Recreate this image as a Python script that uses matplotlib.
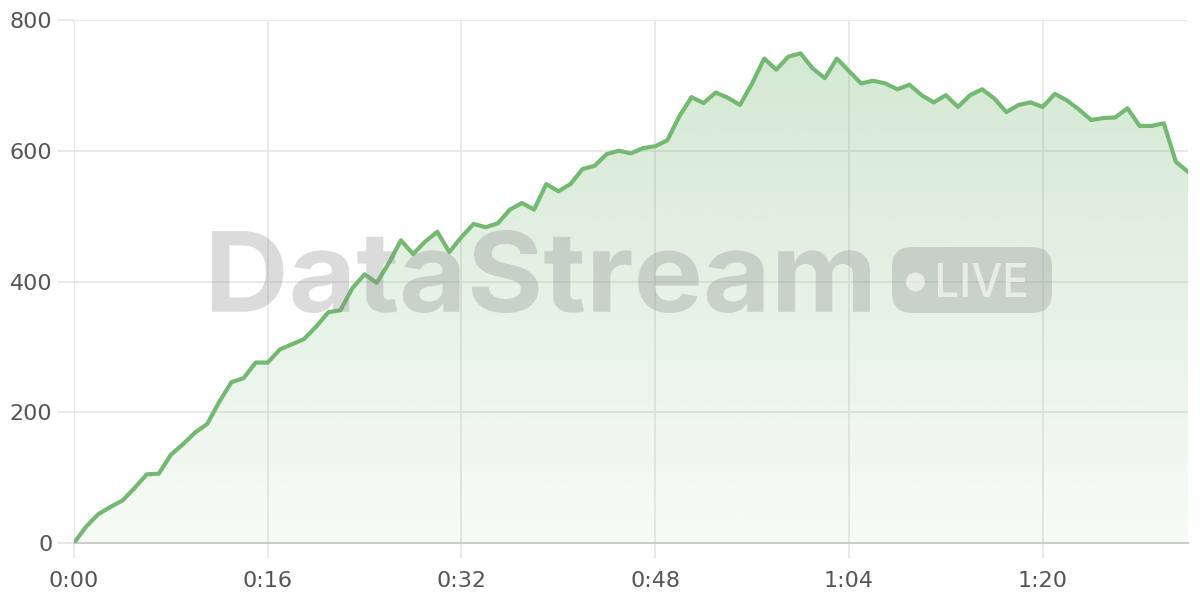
import matplotlib.pyplot as plt
import numpy as np
from matplotlib.patches import FancyBboxPatch, PathPatch, Circle
from matplotlib.textpath import TextPath
from matplotlib.font_manager import FontProperties
from matplotlib.transforms import Affine2D
from matplotlib.colors import LinearSegmentedColormap
from matplotlib.ticker import FuncFormatter

# one reading per second
values = [0, 25, 44, 55, 65, 84, 105, 106, 135, 151,
          169, 182, 216, 246, 252, 276, 276, 296, 304, 312,
          331, 353, 356, 390, 411, 398, 428, 463, 442, 461,
          476, 445, 468, 488, 483, 489, 510, 520, 510, 549,
          538, 549, 572, 577, 595, 600, 596, 604, 607, 616,
          653, 682, 673, 689, 681, 670, 703, 741, 724, 744,
          749, 726, 711, 741, 722, 703, 707, 703, 694, 701,
          685, 674, 685, 667, 685, 694, 680, 659, 670, 674,
          667, 687, 677, 663, 647, 650, 651, 665, 638, 638,
          642, 583, 568]
seconds = np.arange(len(values))
x_ticks = [0, 16, 32, 48, 64, 80]
y_ticks = [0, 200, 400, 600, 800]

line_color = '#74b972'
grid_color = '#e6e6e6'
text_color = '#555555'

W, H = 1200, 600
fig = plt.figure(figsize=(12, 6), dpi=100)
ax = fig.add_axes([74 / W, 1 - 543 / H, (1188 - 74) / W, (543 - 20) / H])

ax.set_xlim(0, seconds[-1])
ax.set_ylim(0, 800)

# gradient fill under the line
poly = ax.fill_between(seconds, values, 0, color='none', lw=0)
grad = np.linspace(0.06, 0.32, 256).reshape(-1, 1)
cmap = LinearSegmentedColormap.from_list('g', [(0.47, 0.73, 0.46, 0), (0.47, 0.73, 0.46, 1)])
img = ax.imshow(grad, aspect='auto', origin='lower', cmap=cmap, vmin=0, vmax=1,
                extent=[0, seconds[-1], 0, max(values)], zorder=1)
img.set_clip_path(poly.get_paths()[0], transform=ax.transData)

ax.plot(seconds, values, color=line_color, lw=3, zorder=3)

ax.set_xticks(x_ticks)
ax.set_yticks(y_ticks)
ax.xaxis.set_major_formatter(FuncFormatter(lambda v, p: f"{int(v) // 60}:{int(v) % 60:02d}"))
ax.grid(True, color=grid_color, lw=1.2, zorder=0)
ax.set_axisbelow(True)
for s in ['top', 'right', 'left']:
    ax.spines[s].set_visible(False)
ax.spines['bottom'].set_color('#cccccc')
ax.spines['bottom'].set_linewidth(1.5)
ax.tick_params(axis='both', colors=grid_color, labelcolor=text_color, labelsize=16, width=1.2)
ax.tick_params(axis='y', length=11.5, pad=4)
ax.tick_params(axis='x', length=11, pad=9)


# watermark, drawn in pixel coords on top of the plot
def fitted_text(s, x0, x1, y_top, y_base, weight):
    tp = TextPath((0, 0), s, size=100, prop=FontProperties(family='Inter', weight=weight))
    ext = tp.get_extents()
    sx = (x1 - x0) / ext.width
    sy = (y_base - y_top) / ext.height
    tr = Affine2D().translate(-ext.x0, -ext.y0).scale(sx, sy).translate(x0, H - y_base)
    return tr.transform_path(tp)


wm_gray = '#888888'
p = fitted_text('DataStream', 212, 870, 230, 313, 'bold')
fig.patches.append(PathPatch(p, transform=None, facecolor=wm_gray, edgecolor='none',
                             alpha=0.3, zorder=10))
box = FancyBboxPatch((892, H - 313), 160, 66, boxstyle='round,pad=0,rounding_size=20',
                     transform=None, facecolor=wm_gray, alpha=0.3, edgecolor='none', zorder=10)
fig.patches.append(box)
fig.patches.append(Circle((915.5, H - 282), 9.5, transform=None, facecolor='white',
                          alpha=0.6, edgecolor='none', zorder=11))
p2 = fitted_text('LIVE', 938, 1026, 263, 297, 'medium')
fig.patches.append(PathPatch(p2, transform=None, facecolor='white', edgecolor='none',
                             alpha=0.6, zorder=11))

fig.savefig('out.png', dpi=100)
